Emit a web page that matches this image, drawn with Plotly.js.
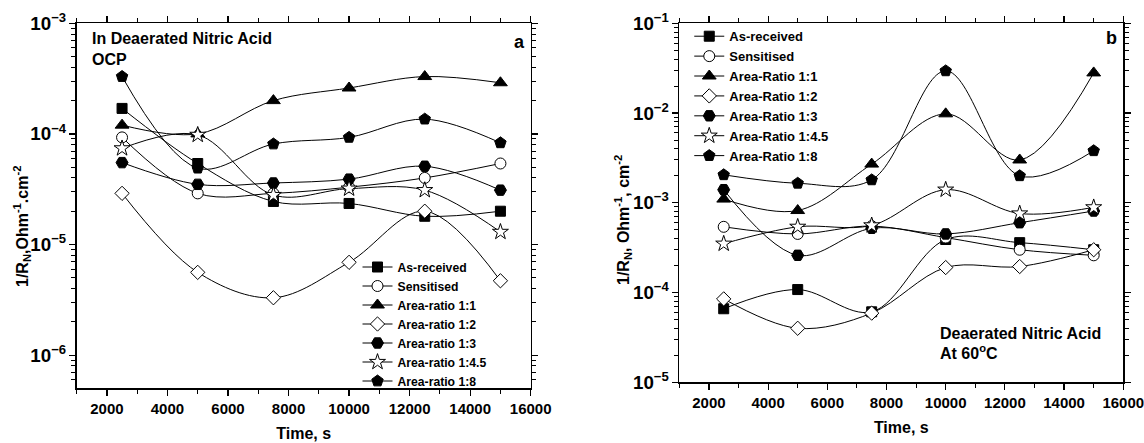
<!DOCTYPE html>
<html>
<head>
<meta charset="utf-8">
<script src="https://cdn.plot.ly/plotly-3.0.1.min.js"></script>
<style>html,body{margin:0;padding:0;background:#fff;}#chart{width:1144px;height:443px;}</style>
</head>
<body>
<div id="chart"></div>
<script>
// Time values (s)
const time = [2500, 5000, 7500, 10000, 12500, 15000];

// Panel a: OCP, deaerated nitric acid (1/RN, Ohm^-1.cm^-2)
const a_asReceived = [1.7e-4, 5.4e-5, 2.45e-5, 2.35e-5, 1.8e-5, 2.0e-5];
const a_sensitised = [9.3e-5, 2.9e-5, 2.9e-5, 3.3e-5, 4.0e-5, 5.4e-5];
const a_ratio11    = [1.2e-4, 1.0e-4, 2.0e-4, 2.6e-4, 3.3e-4, 2.9e-4];
const a_ratio12    = [2.9e-5, 5.6e-6, 3.3e-6, 6.9e-6, 2.0e-5, 4.7e-6];
const a_ratio13    = [5.5e-5, 3.5e-5, 3.6e-5, 3.9e-5, 5.1e-5, 3.1e-5];
const a_ratio145   = [7.4e-5, 9.8e-5, 2.8e-5, 3.2e-5, 3.1e-5, 1.3e-5];
const a_ratio18    = [3.3e-4, 4.9e-5, 8.1e-5, 9.3e-5, 1.36e-4, 8.3e-5];
const a_names = ["As-received", "Sensitised", "Area-ratio 1:1", "Area-ratio 1:2", "Area-ratio 1:3", "Area-ratio 1:4.5", "Area-ratio 1:8"];

// Panel b: deaerated nitric acid at 60 °C
const b_asReceived = [6.6e-5, 1.08e-4, 6.1e-5, 3.9e-4, 3.6e-4, 3.0e-4];
const b_sensitised = [5.4e-4, 4.5e-4, 5.5e-4, 4.1e-4, 3.0e-4, 2.6e-4];
const b_ratio11    = [1.1e-3, 8.2e-4, 2.7e-3, 9.8e-3, 3.0e-3, 2.8e-2];
const b_ratio12    = [8.5e-5, 4.0e-5, 5.9e-5, 1.9e-4, 1.95e-4, 3.0e-4];
const b_ratio13    = [1.4e-3, 2.6e-4, 5.2e-4, 4.5e-4, 6.0e-4, 8.1e-4];
const b_ratio145   = [3.5e-4, 5.4e-4, 5.6e-4, 1.4e-3, 7.6e-4, 8.9e-4];
const b_ratio18    = [2.05e-3, 1.65e-3, 1.8e-3, 2.95e-2, 2.0e-3, 3.8e-3];
const b_names = ["As-received", "Sensitised", "Area-Ratio 1:1", "Area-Ratio 1:2", "Area-Ratio 1:3", "Area-Ratio 1:4.5", "Area-Ratio 1:8"];

const symbols = ["square", "circle", "triangle-up", "diamond", "hexagon2", "star", "pentagon"];
const fills = ["#000", "#fff", "#000", "#fff", "#000", "#fff", "#000"];
const sizes = [10, 11, 12, 11, 12, 12, 12];

const aSeries = [a_asReceived, a_sensitised, a_ratio11, a_ratio12, a_ratio13, a_ratio145, a_ratio18];
const bSeries = [b_asReceived, b_sensitised, b_ratio11, b_ratio12, b_ratio13, b_ratio145, b_ratio18];

const traces = [];
function addSeries(series, names, xa, ya, lg) {
  series.forEach((ys, i) => {
    traces.push({
      x: time, y: ys, name: names[i], type: 'scatter', mode: 'lines+markers',
      xaxis: xa, yaxis: ya, legend: lg,
      line: {color: '#000', width: 1, shape: 'spline', smoothing: 1},
      marker: {symbol: symbols[i], size: sizes[i], color: fills[i], line: {color: '#000', width: 1}}
    });
  });
}
addSeries(aSeries, a_names, 'x', 'y', 'legend');
addSeries(bSeries, b_names, 'x2', 'y2', 'legend2');

const fontFam = 'Liberation Sans, Arial, sans-serif';
const tickFont = {family: fontFam, size: 15, color: '#000', weight: 'bold'};

function xAxis(domain, anchor) {
  return {
    domain: domain, anchor: anchor, range: [1000, 16000], dtick: 2000, tick0: 0, tickformat: 'd',
    showgrid: false, zeroline: false, showline: true, linecolor: '#000', linewidth: 1.5,
    mirror: 'allticks', ticks: 'outside', ticklen: 6, tickwidth: 1.2, tickcolor: '#000',
    minor: {ticks: 'outside', ticklen: 4, dtick: 1000, tickwidth: 1, tickcolor: '#000', showgrid: false},
    tickfont: tickFont, ticklabeloverflow: 'allow',
    title: {text: '<b>Time, s</b>', font: {family: fontFam, size: 16, color: '#000'}, standoff: 12},
    automargin: false
  };
}
function yAxis(domain, anchor, range) {
  return {
    domain: domain, anchor: anchor, type: 'log', range: range, dtick: 1,
    exponentformat: 'power', showexponent: 'all',
    showgrid: false, zeroline: false, showline: true, linecolor: '#000', linewidth: 1.5,
    mirror: 'allticks', ticks: 'outside', ticklen: 6, tickwidth: 1.2, tickcolor: '#000',
    minor: {ticks: 'outside', ticklen: 4, dtick: 'D1', tickwidth: 1, tickcolor: '#000', showgrid: false},
    tickfont: tickFont, ticklabeloverflow: 'allow',
    automargin: false
  };
}

const annFont = {family: fontFam, size: 16, color: '#000'};
const layout = {
  width: 1144, height: 443,
  margin: {l: 0, r: 0, t: 0, b: 0},
  paper_bgcolor: '#fff', plot_bgcolor: '#fff',
  showlegend: true,
  font: {family: fontFam, color: '#000'},
  xaxis: xAxis([0.0670, 0.4639], 'y'),
  yaxis: yAxis([0.1235, 0.9474], 'x', [-6.3, -3]),
  xaxis2: xAxis([0.5938, 0.9819], 'y2'),
  yaxis2: yAxis([0.1370, 0.9474], 'x2', [-5, -1]),
  legend: {
    x: 0.3125, y: 0.430, xanchor: 'left', yanchor: 'top', bgcolor: 'rgba(0,0,0,0)',
    font: {family: fontFam, size: 12.2, color: '#000', weight: 'bold'}, tracegroupgap: 0, itemwidth: 30
  },
  legend2: {
    x: 0.6025, y: 0.952, xanchor: 'left', yanchor: 'top', bgcolor: 'rgba(0,0,0,0)',
    font: {family: fontFam, size: 13, color: '#000', weight: 'bold'}, tracegroupgap: 0, itemwidth: 30
  },
  annotations: [
    {xref: 'paper', yref: 'paper', x: 22/1144, y: 1 - 227/443, xanchor: 'center', yanchor: 'middle', showarrow: false, textangle: -90,
     text: '<b>1/R<sub>N</sub>,Ohm<sup>-1</sup>.cm<sup>-2</sup></b>', font: {family: fontFam, size: 16, color: '#000'}},
    {xref: 'paper', yref: 'paper', x: 623/1144, y: 1 - 220/443, xanchor: 'center', yanchor: 'middle', showarrow: false, textangle: -90,
     text: '<b>1/R<sub>N</sub>, Ohm<sup>-1</sup>, cm<sup>-2</sup></b>', font: {family: fontFam, size: 16, color: '#000'}},
    {xref: 'paper', yref: 'paper', x: 90/1144, y: 1 - 38/443, xanchor: 'left', yanchor: 'middle', showarrow: false,
     text: '<b>In Deaerated Nitric Acid</b>', font: annFont},
    {xref: 'paper', yref: 'paper', x: 90/1144, y: 1 - 60/443, xanchor: 'left', yanchor: 'middle', showarrow: false,
     text: '<b>OCP</b>', font: annFont},
    {xref: 'paper', yref: 'paper', x: 527/1144, y: 1 - 42/443, xanchor: 'right', yanchor: 'middle', showarrow: false,
     text: '<b>a</b>', font: {family: fontFam, size: 18, color: '#000'}},
    {xref: 'paper', yref: 'paper', x: 1119/1144, y: 1 - 38/443, xanchor: 'right', yanchor: 'middle', showarrow: false,
     text: '<b>b</b>', font: {family: fontFam, size: 18, color: '#000'}},
    {xref: 'paper', yref: 'paper', x: 938/1144, y: 1 - 333/443, xanchor: 'left', yanchor: 'middle', showarrow: false,
     text: '<b>Deaerated Nitric Acid</b>', font: annFont},
    {xref: 'paper', yref: 'paper', x: 938/1144, y: 1 - 352/443, xanchor: 'left', yanchor: 'middle', showarrow: false,
     text: '<b>At 60<sup>o</sup>C</b>', font: annFont}
  ]
};

Plotly.newPlot('chart', traces, layout, {displayModeBar: false, staticPlot: true});
</script>
</body>
</html>
